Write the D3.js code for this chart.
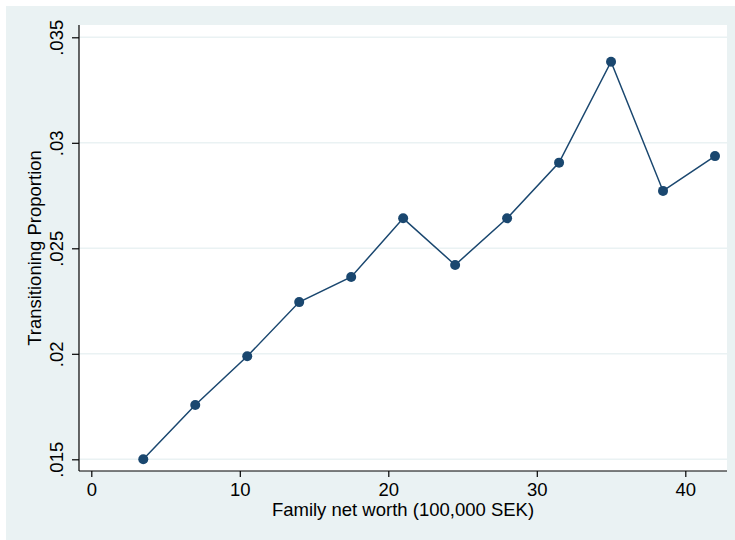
<!DOCTYPE html>
<html>
<head>
<meta charset="utf-8">
<script src="https://cdn.jsdelivr.net/npm/d3@7"></script>
<style>
  html, body { margin: 0; padding: 0; background: #ffffff; }
  svg { display: block; font-family: "Liberation Sans", Arial, sans-serif; }
</style>
</head>
<body>
<svg id="chart" width="735" height="540"></svg>
<script>
// Family net worth bins (100,000 SEK) and share transitioning
const netWorth = [3.5, 7, 10.5, 14, 17.5, 21, 24.5, 28, 31.5, 35, 38.5, 42];
const proportion = [0.0150, 0.01757, 0.01988, 0.02245, 0.02364, 0.02642,
                    0.02421, 0.02642, 0.02906, 0.03384, 0.02772, 0.02937];
const xTicks = [0, 10, 20, 30, 40];
const yTicks = [0.015, 0.02, 0.025, 0.03, 0.035];
const yTickLabels = [".015", ".02", ".025", ".03", ".035"];
const xTitle = "Family net worth (100,000 SEK)";
const yTitle = "Transitioning Proportion";

const svg = d3.select("#chart");
const navy = "#1a476f";
const bg = "#eaf2f3";
const fontSize = 18.5;

// outer graph region
svg.append("rect").attr("x", 6).attr("y", 6).attr("width", 729).attr("height", 534).attr("fill", bg);

const plot = { left: 79, right: 727, top: 25, bottom: 471 };
svg.append("rect")
  .attr("x", plot.left).attr("y", plot.top)
  .attr("width", plot.right - plot.left).attr("height", plot.bottom - plot.top)
  .attr("fill", "#ffffff");

const x = d3.scaleLinear().domain([0, 40]).range([91.3, 685.3]);
const y = d3.scaleLinear().domain([0.015, 0.035]).range([459.3, 37.3]);

// horizontal grid lines
svg.append("g").selectAll("line").data(yTicks).join("line")
  .attr("x1", plot.left).attr("x2", plot.right)
  .attr("y1", d => y(d)).attr("y2", d => y(d))
  .attr("stroke", bg).attr("stroke-width", 1.5);

// y axis
const yAxis = svg.append("g").attr("transform", `translate(${plot.left},0)`)
  .call(d3.axisLeft(y).tickValues(yTicks).tickSize(7).tickFormat((d, i) => yTickLabels[i]));
yAxis.select(".domain").attr("d", `M0,${plot.top}V${plot.bottom}`).attr("stroke", "#000").attr("stroke-width", 1.2);
yAxis.selectAll(".tick line").attr("stroke", "#000").attr("stroke-width", 1.2);
yAxis.selectAll(".tick text")
  .attr("x", null).attr("dy", null)
  .attr("transform", "translate(-16,0) rotate(-90)")
  .attr("text-anchor", "middle")
  .attr("font-size", fontSize).attr("fill", "#000")
  .attr("font-family", "Liberation Sans, Arial, sans-serif");

// x axis
const xAxis = svg.append("g").attr("transform", `translate(0,${plot.bottom})`)
  .call(d3.axisBottom(x).tickValues(xTicks).tickSize(6).tickFormat(d3.format("d")));
xAxis.select(".domain").attr("d", `M${plot.left},0H${plot.right}`).attr("stroke", "#000").attr("stroke-width", 1.2);
xAxis.selectAll(".tick line").attr("stroke", "#000").attr("stroke-width", 1.2);
xAxis.selectAll(".tick text")
  .attr("y", 25).attr("dy", null)
  .attr("font-size", fontSize).attr("fill", "#000")
  .attr("font-family", "Liberation Sans, Arial, sans-serif");

// axis titles
svg.append("text")
  .attr("x", (plot.left + plot.right) / 2).attr("y", 516)
  .attr("text-anchor", "middle").attr("font-size", fontSize).attr("fill", "#000")
  .text(xTitle);
svg.append("text")
  .attr("transform", `translate(41,${(plot.top + plot.bottom) / 2}) rotate(-90)`)
  .attr("text-anchor", "middle").attr("font-size", fontSize).attr("fill", "#000")
  .text(yTitle);

// connected series
const pts = netWorth.map((v, i) => [v, proportion[i]]);
svg.append("path")
  .datum(pts)
  .attr("d", d3.line().x(d => x(d[0])).y(d => y(d[1])))
  .attr("fill", "none").attr("stroke", navy).attr("stroke-width", 1.5);
svg.append("g").selectAll("circle").data(pts).join("circle")
  .attr("cx", d => x(d[0])).attr("cy", d => y(d[1]))
  .attr("r", 5).attr("fill", navy);
</script>
</body>
</html>
